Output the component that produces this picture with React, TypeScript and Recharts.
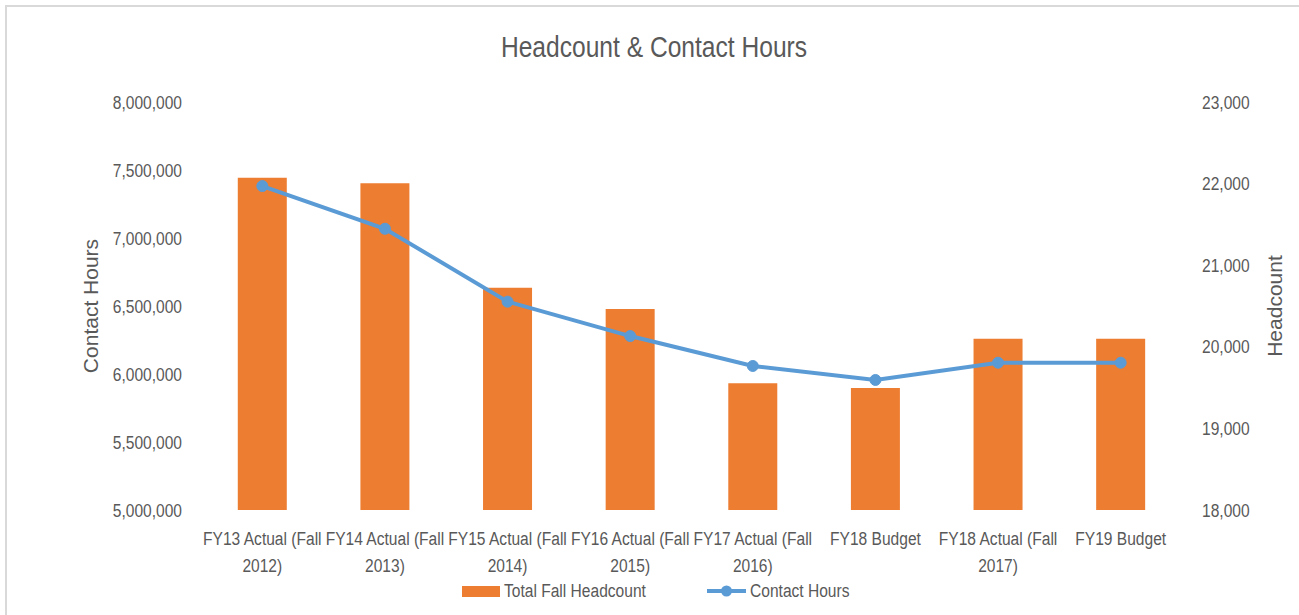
import React from 'react';
import { ComposedChart, Bar, Line, XAxis, YAxis } from 'recharts';

const categories = [
  'FY13 Actual (Fall 2012)',
  'FY14 Actual (Fall 2013)',
  'FY15 Actual (Fall 2014)',
  'FY16 Actual (Fall 2015)',
  'FY17 Actual (Fall 2016)',
  'FY18 Budget',
  'FY18 Actual (Fall 2017)',
  'FY19 Budget',
];
const headcount = [22072, 22004, 20724, 20463, 19553, 19495, 20099, 20099];
const contactHours = [7382000, 7068000, 6532000, 6279000, 6059000, 5956000, 6083000, 6083000];

const hoursTicks = [5000000, 5500000, 6000000, 6500000, 7000000, 7500000, 8000000];
const countTicks = [18000, 19000, 20000, 21000, 22000, 23000];

const SANS = '"Liberation Sans", Arial, sans-serif';
const GREY = '#595959';
const ORANGE = '#ED7D31';
const BLUE = '#5B9BD5';
// no narrow face installed, so squeeze Liberation Sans like Arial Narrow
const SQUEEZE = 0.82;

const data = categories.map((name, i) => ({
  name,
  headcount: headcount[i],
  hours: contactHours[i],
}));

// tick marks sit between the categories, like Excel does
const boundaryTicks = [...categories.map((_, i) => i), categories.length];

const fmt = (v: number) => v.toLocaleString('en-US');

const NarrowText: React.FC<any> = ({ x, y, anchor = 'start', size = 19, children }) => (
  <text
    transform={`translate(${x},${y}) scale(${SQUEEZE},1)`}
    textAnchor={anchor}
    fill={GREY}
    fontSize={size}
    fontFamily={SANS}
  >
    {children}
  </text>
);

const CategoryTick: React.FC<any> = ({ x, y, payload }) => {
  const label: string = payload.value;
  const cut = label.lastIndexOf(' ');
  const lines = label.length > 12 ? [label.slice(0, cut), label.slice(cut + 1)] : [label];
  return (
    <g>
      {lines.map((l, i) => (
        <NarrowText key={i} x={x} y={y + 35 + i * 26.7} anchor="middle">
          {l}
        </NarrowText>
      ))}
    </g>
  );
};

const ValueTick: React.FC<any> = ({ x, y, payload, anchor }) => (
  <NarrowText x={x} y={y + 6.5} anchor={anchor}>
    {fmt(payload.value)}
  </NarrowText>
);

const axisTitle = (text: string, dx: number) => (props: any) => {
  const { x, y, height } = props.viewBox;
  const cx = x + dx;
  const cy = y + height / 2;
  return (
    <text
      x={cx}
      y={cy}
      transform={`rotate(-90, ${cx}, ${cy})`}
      textAnchor="middle"
      dominantBaseline="central"
      fill={GREY}
      fontSize={21}
      fontFamily={SANS}
    >
      {text}
    </text>
  );
};

export default function App() {
  return (
    <div style={{ position: 'absolute', left: 0, top: 0, width: 1299, height: 615, overflow: 'hidden', background: '#fff' }}>
      <div
        style={{
          position: 'absolute',
          left: 5,
          top: 5,
          width: 1320,
          height: 640,
          border: '2px solid #D9D9D9',
        }}
      />
      <div style={{ position: 'absolute', left: 0, top: 0 }}>
        <ComposedChart
          width={1299}
          height={615}
          data={data}
          margin={{ top: 102, right: 0, bottom: 45, left: 0 }}
          barCategoryGap="30%"
        >
          <XAxis
            xAxisId="bounds"
            type="number"
            domain={[0, categories.length]}
            ticks={boundaryTicks}
            interval={0}
            height={0}
            tick={false}
            tickSize={7}
            tickLine={{ stroke: '#D9D9D9' }}
            axisLine={{ stroke: '#D9D9D9' }}
            allowDataOverflow
          />
          <XAxis
            dataKey="name"
            height={60}
            interval={0}
            axisLine={false}
            tickLine={false}
            tickSize={0}
            tickMargin={0}
            tick={<CategoryTick />}
          />
          <YAxis
            yAxisId="hours"
            orientation="left"
            width={201}
            domain={[5000000, 8000000]}
            ticks={hoursTicks}
            interval={0}
            axisLine={false}
            tickLine={false}
            tickSize={0}
            tickMargin={19}
            tick={<ValueTick anchor="end" />}
            label={{ content: axisTitle('Contact Hours', 90) }}
          />
          <YAxis
            yAxisId="count"
            orientation="right"
            width={117}
            domain={[18000, 23000]}
            ticks={countTicks}
            interval={0}
            axisLine={false}
            tickLine={false}
            tickSize={0}
            tickMargin={20}
            tick={<ValueTick anchor="start" />}
            label={{ content: axisTitle('Headcount', 92) }}
          />
          <Bar
            yAxisId="count"
            dataKey="headcount"
            name="Total Fall Headcount"
            fill={ORANGE}
            isAnimationActive={false}
          />
          <Line
            yAxisId="hours"
            dataKey="hours"
            name="Contact Hours"
            type="linear"
            stroke={BLUE}
            strokeWidth={4}
            dot={{ r: 5.5, fill: BLUE, stroke: BLUE, strokeWidth: 1 }}
            isAnimationActive={false}
          />
        </ComposedChart>
      </div>
      <svg width={1299} height={615} style={{ position: 'absolute', left: 0, top: 0, pointerEvents: 'none' }}>
        <NarrowText x={654} y={57} anchor="middle" size={30}>
          Headcount &amp; Contact Hours
        </NarrowText>
        <rect x={462} y={586} width={38} height={11} fill={ORANGE} />
        <NarrowText x={504} y={597}>Total Fall Headcount</NarrowText>
        <line x1={707} y1={591} x2={746} y2={591} stroke={BLUE} strokeWidth={4} />
        <circle cx={726.5} cy={591} r={5.5} fill={BLUE} />
        <NarrowText x={750} y={597}>Contact Hours</NarrowText>
      </svg>
    </div>
  );
}
